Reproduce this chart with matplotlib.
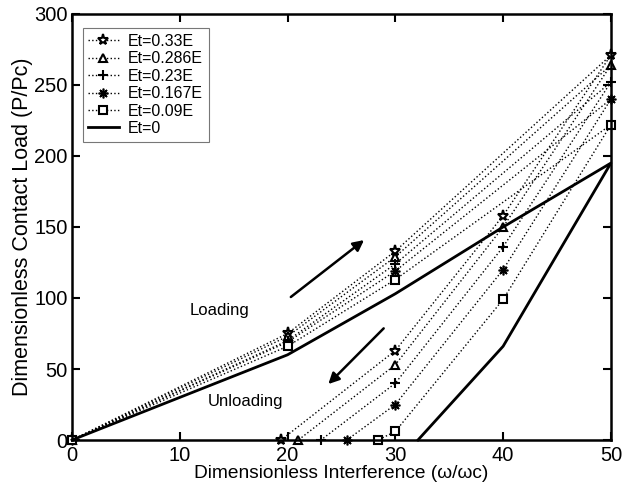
import matplotlib
matplotlib.use("Agg")
import matplotlib.pyplot as plt

plt.rcParams['font.family'] = ['Liberation Sans', 'DejaVu Sans']

# Loading branch x positions
x_load = [0, 20, 30, 50]
# Unloading branch x positions (from 50 down), last point is zero-load crossing
x_unload = [50, 40, 30]

labels = ["Et=0.33E", "Et=0.286E", "Et=0.23E", "Et=0.167E", "Et=0.09E"]
load_vals = {
    "Et=0.33E":  [0, 75, 133, 271],
    "Et=0.286E": [0, 73, 129, 264],
    "Et=0.23E":  [0, 70, 124, 252],
    "Et=0.167E": [0, 69, 119, 240],
    "Et=0.09E":  [0, 66, 113, 222],
}
unload_vals = {
    "Et=0.33E":  [271, 158, 63],
    "Et=0.286E": [264, 150, 53],
    "Et=0.23E":  [252, 136, 40],
    "Et=0.167E": [240, 120, 25],
    "Et=0.09E":  [222, 99, 6],
}
zero_x = {
    "Et=0.33E": 19.4,
    "Et=0.286E": 21.0,
    "Et=0.23E": 23.1,
    "Et=0.167E": 25.5,
    "Et=0.09E": 28.4,
}
markers = {
    "Et=0.33E": "*",
    "Et=0.286E": "^",
    "Et=0.23E": "+",
    "Et=0.167E": (8, 2, 0),
    "Et=0.09E": "s",
}
msizes = {"Et=0.33E": 8, "Et=0.286E": 6, "Et=0.23E": 7.5,
          "Et=0.167E": 7, "Et=0.09E": 5.5}
mews = {"Et=0.33E": 1.5, "Et=0.286E": 1.5, "Et=0.23E": 1.5,
        "Et=0.167E": 1.2, "Et=0.09E": 1.5}

# Elastic (Et=0) curve
x_el = [0, 20, 30, 40, 50, 40, 32.1]
y_el = [0, 60, 103, 150, 195, 66, 0]

fig = plt.figure(figsize=(6.24, 4.94), dpi=100)
ax = fig.add_axes([0.1154, 0.1093, 0.8636, 0.8624])

for lab in labels:
    xs = x_load + x_unload[1:] + [zero_x[lab]]
    ys = load_vals[lab] + unload_vals[lab][1:] + [0]
    m = markers[lab]
    ax.plot(xs, ys, linestyle=':', color='black', linewidth=1.0,
            marker=m, markersize=msizes[lab], markerfacecolor='white',
            markeredgecolor='black', markeredgewidth=mews[lab],
            label=lab, clip_on=False)

ax.plot(x_el, y_el, '-', color='black', linewidth=2.0, label="Et=0", clip_on=False)

ax.set_xlim(0, 50)
ax.set_ylim(0, 300)
ax.set_xticks([0, 10, 20, 30, 40, 50])
ax.set_yticks([0, 50, 100, 150, 200, 250, 300])
ax.tick_params(direction='in', top=True, right=True, length=6, width=1.5,
               labelsize=14.5)
ax.tick_params(axis='x', pad=4)
ax.tick_params(axis='y', pad=3)
for s in ax.spines.values():
    s.set_linewidth(1.8)

ax.set_xlabel("Dimensionless Interference (\u03c9/\u03c9c)", fontsize=13.8, labelpad=0)
ax.set_ylabel("Dimensionless Contact Load (P/Pc)", fontsize=15.5, labelpad=1)

ax.text(13.7, 91, "Loading", fontsize=12, ha='center', va='center')
ax.text(16.1, 27, "Unloading", fontsize=12, ha='center', va='center')

ax.annotate("", xy=(27.3, 142), xytext=(20.1, 99.5),
            arrowprops=dict(arrowstyle='-|>', color='black', lw=1.8,
                            mutation_scale=16))
ax.annotate("", xy=(23.6, 38), xytext=(29.1, 80),
            arrowprops=dict(arrowstyle='-|>', color='black', lw=1.8,
                            mutation_scale=16))

leg = ax.legend(loc='upper left', fontsize=11.5, frameon=True, fancybox=False,
                edgecolor='#555555', handlelength=1.9, borderpad=0.35,
                labelspacing=0.15, handletextpad=0.6, bbox_to_anchor=(0.005, 0.985))
leg.get_frame().set_linewidth(0.8)

fig.savefig("out.png", dpi=100)
